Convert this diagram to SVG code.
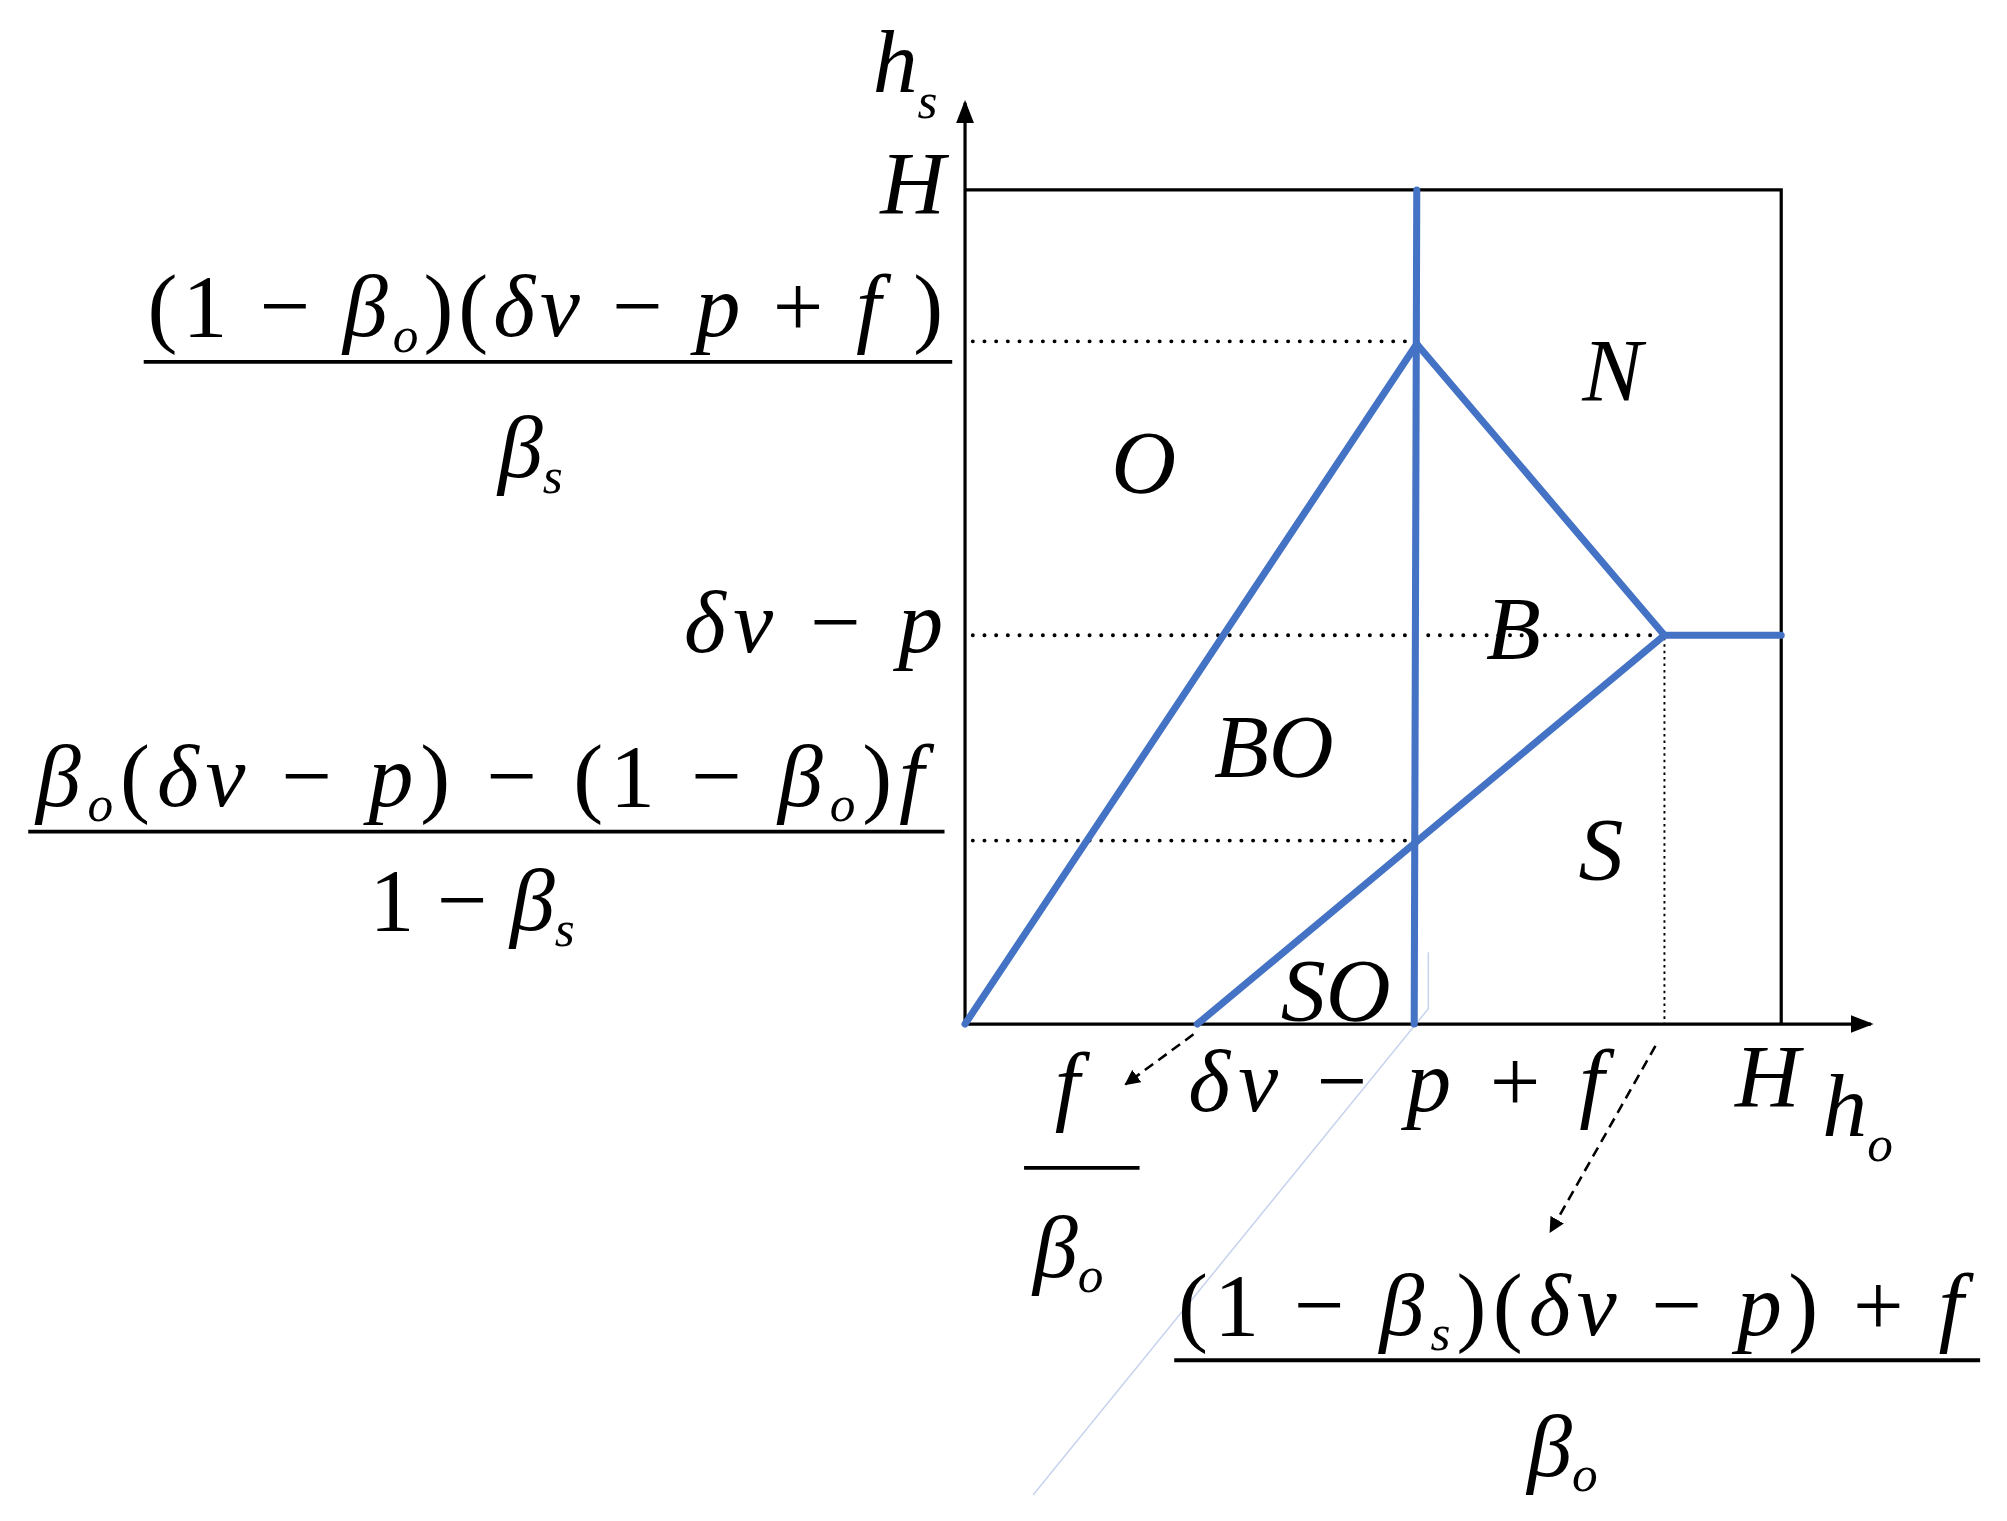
<svg xmlns="http://www.w3.org/2000/svg" width="2007" height="1521" viewBox="0 0 2007 1521">
<defs>
<marker id="ah" markerWidth="12" markerHeight="12" refX="11" refY="6" orient="auto" markerUnits="userSpaceOnUse"><path d="M0,0 L12,6 L0,12 z" fill="#000"/></marker>
<marker id="ah2" markerWidth="18" markerHeight="14" refX="16" refY="7" orient="auto" markerUnits="userSpaceOnUse"><path d="M0,0 L18,7 L0,14 z" fill="#000"/></marker>
<style>
.ax{stroke:#000;stroke-width:2.5;fill:none}
.bl{stroke:#4472C4;stroke-width:5.5;fill:none;stroke-linecap:round}
.dt{stroke:#000;stroke-width:3;stroke-dasharray:0.1 9;stroke-linecap:round;fill:none}
.t{font-family:"Liberation Serif","Times New Roman",serif;font-size:70px;fill:#000}
.i{font-style:italic}
.sub{font-size:40px;font-style:italic}
.fl{stroke:#000;stroke-width:3}
</style>
</defs>
<rect width="2007" height="1521" fill="#fff"/>
<g transform="scale(1.2833)">
<g id="connectors">
<line class="ax" x1="752" y1="800" x2="752" y2="80" marker-end="url(#ah2)"/>
<line class="ax" x1="752" y1="798" x2="1458" y2="798" marker-end="url(#ah2)"/>
<polyline class="ax" points="752,148 1388,148 1388,798"/>
<line class="dt" x1="758" y1="266" x2="1100" y2="266"/>
<line class="dt" x1="758" y1="495" x2="1295" y2="495"/>
<line class="dt" x1="758" y1="655" x2="1100" y2="655"/>
<line x1="1297" y1="497" x2="1297" y2="798" stroke="#000" stroke-width="1.5" stroke-dasharray="2 3"/>
<polyline points="1113,742 1113,786 805,1165" stroke="#c8d4ee" stroke-width="1.2" fill="none"/>
<line class="bl" x1="1104" y1="148" x2="1102" y2="798"/>
<line class="bl" x1="752" y1="798" x2="1104" y2="268"/>
<polyline class="bl" points="1104,268 1297,495 1388,495"/>
<line class="bl" x1="933" y1="798" x2="1297" y2="495"/>
<line x1="930" y1="806" x2="877" y2="845" stroke="#000" stroke-width="2" stroke-dasharray="8 5" marker-end="url(#ah)"/>
<line x1="1290" y1="815" x2="1208" y2="960" stroke="#000" stroke-width="2" stroke-dasharray="8 5" marker-end="url(#ah)"/>
</g>
<g id="axis-labels">
<text class="t i" x="680" y="72" font-size="58">h<tspan class="sub" dy="20">s</tspan></text>
<text class="t i" x="686" y="166" font-size="52">H</text>
<text class="t i" x="1352" y="862" font-size="52">H</text>
<text class="t i" x="1420" y="885" font-size="58">h<tspan class="sub" dy="20">o</tspan></text>
</g>
<g id="label-top">
<text class="t" x="115" y="262" textLength="620" lengthAdjust="spacing">(1 − <tspan class="i">β</tspan><tspan class="sub" dy="12">o</tspan><tspan dy="-12">)(</tspan><tspan class="i">δv</tspan> − <tspan class="i">p</tspan> + <tspan class="i">f</tspan> )</text>
<line class="fl" x1="112" y1="282" x2="742" y2="282"/>
<text class="t i" x="388" y="372">β<tspan class="sub" dy="12">s</tspan></text>
</g>
<g id="label-dvp"><text class="t" x="533" y="508" textLength="202" lengthAdjust="spacing"><tspan class="i">δv</tspan> − <tspan class="i">p</tspan></text></g>
<g id="label-mid">
<text class="t" x="28" y="628" textLength="692" lengthAdjust="spacing"><tspan class="i">β</tspan><tspan class="sub" dy="12">o</tspan><tspan dy="-12">(</tspan><tspan class="i">δv</tspan> − <tspan class="i">p</tspan>) − (1 − <tspan class="i">β</tspan><tspan class="sub" dy="12">o</tspan><tspan dy="-12">)</tspan><tspan class="i">f</tspan></text>
<line class="fl" x1="22" y1="648" x2="736" y2="648"/>
<text class="t" x="288" y="725">1 − <tspan class="i">β</tspan><tspan class="sub" dy="12">s</tspan></text>
</g>
<g id="label-fbo">
<text class="t i" x="822" y="868">f</text>
<line class="fl" x1="798" y1="910" x2="888" y2="910"/>
<text class="t i" x="805" y="995">β<tspan class="sub" dy="12">o</tspan></text>
</g>
<g id="label-dvpf"><text class="t" x="926" y="866" textLength="324" lengthAdjust="spacing"><tspan class="i">δv</tspan> − <tspan class="i">p</tspan> + <tspan class="i">f</tspan></text></g>
<g id="label-bottom">
<text class="t" x="918" y="1040" textLength="612" lengthAdjust="spacing">(1 − <tspan class="i">β</tspan><tspan class="sub" dy="12">s</tspan><tspan dy="-12">)(</tspan><tspan class="i">δv</tspan> − <tspan class="i">p</tspan>) + <tspan class="i">f</tspan></text>
<line class="fl" x1="915" y1="1060" x2="1543" y2="1060"/>
<text class="t i" x="1190" y="1150">β<tspan class="sub" dy="12">o</tspan></text>
</g>
<g id="regions" class="t i" font-size="72">
<text x="1233" y="312">N</text>
<text x="866" y="383">O</text>
<text x="1158" y="513">B</text>
<text x="946" y="605">BO</text>
<text x="1230" y="685">S</text>
<text x="998" y="795">SO</text>
</g>
</g>
</svg>
